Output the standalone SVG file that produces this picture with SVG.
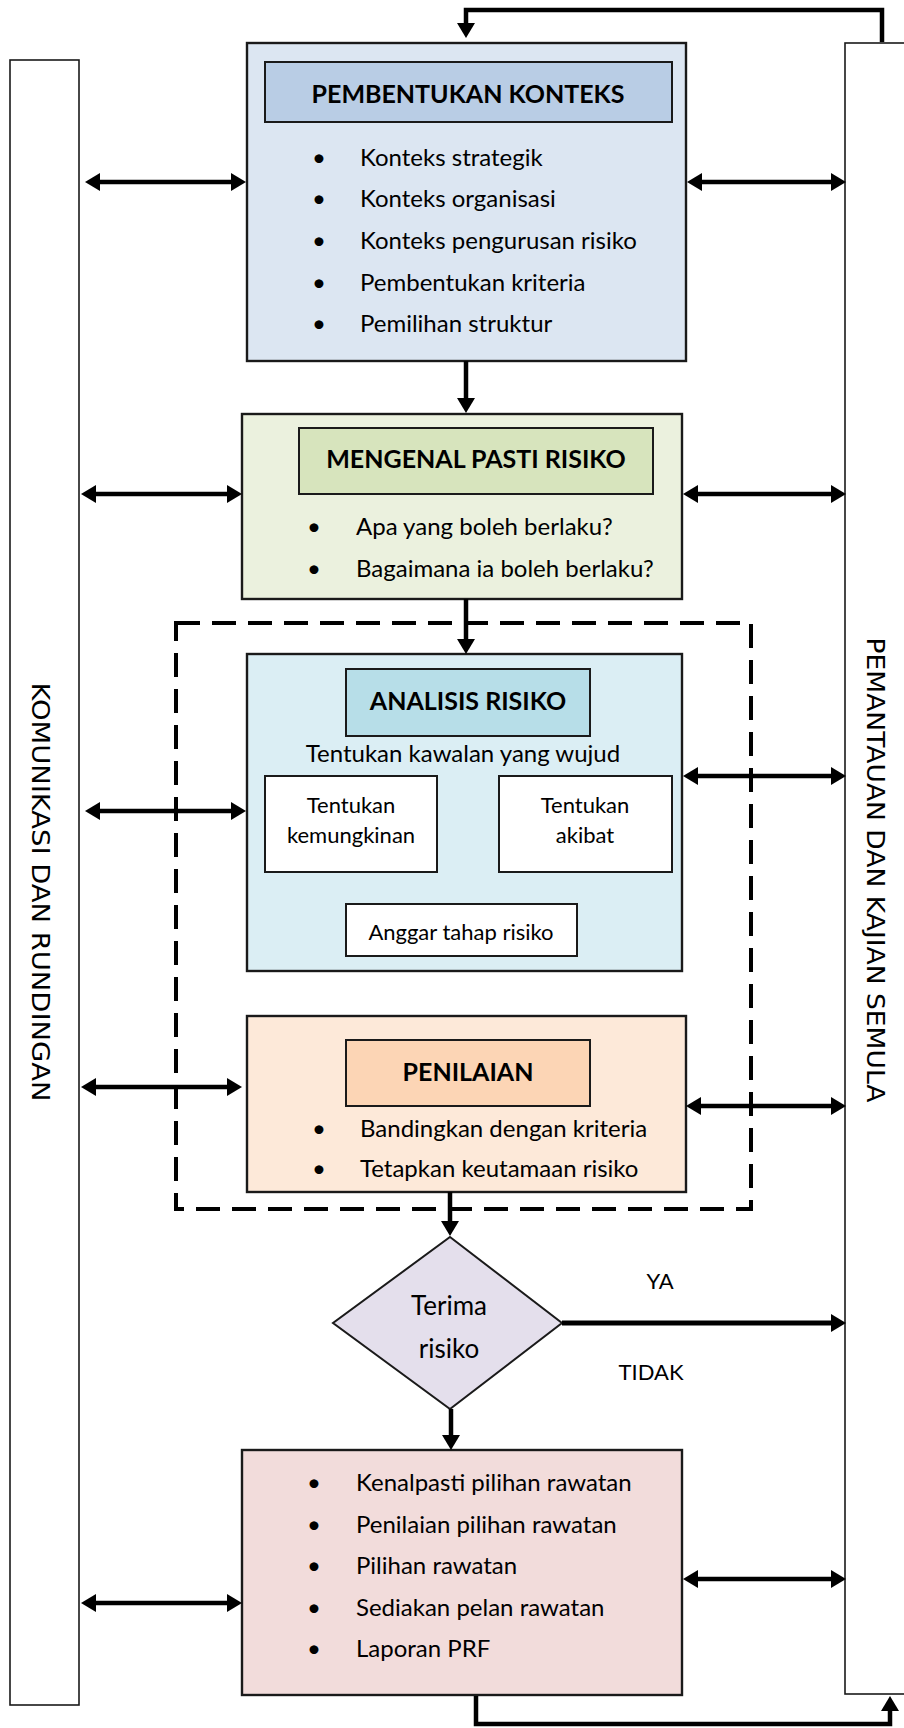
<svg xmlns="http://www.w3.org/2000/svg" width="904" height="1728" viewBox="0 0 904 1728">
<style>
.bg{fill:#ffffff}
.bar{fill:#ffffff;stroke:#1a1a1a;stroke-width:1.6}
.box{stroke:#1a1a1a;stroke-width:2.4}
.hdr{stroke:#1a1a1a;stroke-width:2}
.sub{fill:#ffffff;stroke:#1a1a1a;stroke-width:2}
.dash{fill:none;stroke:#000;stroke-width:4;stroke-dasharray:24 12}
.t{font-family:Lato,"Open Sans",sans-serif;font-size:24px;fill:#000}
.h{font-weight:bold;font-size:25px;text-anchor:middle}
.c{text-anchor:middle}
.s{font-size:22px}
.v{font-family:"DejaVu Sans",sans-serif;font-size:24px;fill:#000;text-anchor:middle}
.conn line,.conn path{stroke:#000;stroke-width:4.5;fill:none}
</style>
<defs>
<marker id="ah" markerUnits="userSpaceOnUse" markerWidth="16" markerHeight="18" refX="1" refY="9" orient="auto-start-reverse" overflow="visible"><path d="M0,0 L15,9 L0,18 z" fill="#000"/></marker>
</defs>
<rect class="bg" x="0" y="0" width="904" height="1728"/>

<g id="bar-left">
<rect class="bar" x="10" y="60" width="69" height="1645"/>
<text class="v" transform="translate(32,892) rotate(90)" textLength="419" lengthAdjust="spacingAndGlyphs">KOMUNIKASI DAN RUNDINGAN</text>
</g>
<g id="bar-right">
<rect class="bar" x="845" y="43" width="75" height="1651"/>
<text class="v" transform="translate(867,870) rotate(90)" textLength="465" lengthAdjust="spacingAndGlyphs">PEMANTAUAN DAN KAJIAN SEMULA</text>
</g>

<g id="pembentukan">
<rect class="box" x="247" y="43" width="439" height="318" fill="#dce6f2"/>
<rect class="hdr" x="265" y="62" width="407" height="60" fill="#b9cde5"/>
<text class="t h" x="468" y="103">PEMBENTUKAN KONTEKS</text>
<text class="t c" x="319" y="166">•</text><text class="t" x="360" y="166">Konteks strategik</text>
<text class="t c" x="319" y="207">•</text><text class="t" x="360" y="207">Konteks organisasi</text>
<text class="t c" x="319" y="249">•</text><text class="t" x="360" y="249">Konteks pengurusan risiko</text>
<text class="t c" x="319" y="291">•</text><text class="t" x="360" y="291">Pembentukan kriteria</text>
<text class="t c" x="319" y="332">•</text><text class="t" x="360" y="332">Pemilihan struktur</text>
</g>

<g id="mengenal">
<rect class="box" x="242" y="414" width="440" height="185" fill="#ebf1de"/>
<rect class="hdr" x="299" y="428" width="354" height="66" fill="#d7e4bd"/>
<text class="t h" x="476" y="468">MENGENAL PASTI RISIKO</text>
<text class="t c" x="314" y="535">•</text><text class="t" x="356" y="535">Apa yang boleh berlaku?</text>
<text class="t c" x="314" y="577">•</text><text class="t" x="356" y="577">Bagaimana ia boleh berlaku?</text>
</g>

<g id="analisis">
<rect class="box" x="247" y="654" width="435" height="317" fill="#dbeef4"/>
<rect class="hdr" x="346" y="669" width="244" height="67" fill="#b7dee8"/>
<text class="t h" x="468" y="710">ANALISIS RISIKO</text>
<text class="t c" x="463" y="762">Tentukan kawalan yang wujud</text>
</g>
<g id="kemungkinan">
<rect class="sub" x="265" y="776" width="172" height="96"/>
<text class="t s c" x="351" y="813">Tentukan</text>
<text class="t s c" x="351" y="843">kemungkinan</text>
</g>
<g id="akibat">
<rect class="sub" x="499" y="776" width="173" height="96"/>
<text class="t s c" x="585" y="813">Tentukan</text>
<text class="t s c" x="585" y="843">akibat</text>
</g>
<g id="anggar">
<rect class="sub" x="346" y="904" width="231" height="52"/>
<text class="t s c" x="461" y="940">Anggar tahap risiko</text>
</g>

<g id="penilaian">
<rect class="box" x="247" y="1016" width="439" height="176" fill="#fde9d9"/>
<rect class="hdr" x="346" y="1040" width="244" height="66" fill="#fcd5b5"/>
<text class="t h" x="468" y="1081">PENILAIAN</text>
<text class="t c" x="319" y="1137">•</text><text class="t" x="360" y="1137">Bandingkan dengan kriteria</text>
<text class="t c" x="319" y="1177">•</text><text class="t" x="360" y="1177">Tetapkan keutamaan risiko</text>
</g>

<g id="analysis-group">
<rect class="dash" x="176" y="623" width="575" height="586"/>
</g>

<g id="terima">
<polygon points="450,1237 562,1323 450,1409 333,1323" fill="#e4dfec" stroke="#1a1a1a" stroke-width="2"/>
<text class="t c" x="449" y="1315" style="font-size:26px">Terima</text>
<text class="t c" x="449" y="1358" style="font-size:26px">risiko</text>
</g>

<g id="rawatan">
<rect class="box" x="242" y="1450" width="440" height="245" fill="#f2dcdb"/>
<text class="t c" x="314" y="1491">•</text><text class="t" x="356" y="1491">Kenalpasti pilihan rawatan</text>
<text class="t c" x="314" y="1533">•</text><text class="t" x="356" y="1533">Penilaian pilihan rawatan</text>
<text class="t c" x="314" y="1574">•</text><text class="t" x="356" y="1574">Pilihan rawatan</text>
<text class="t c" x="314" y="1616">•</text><text class="t" x="356" y="1616">Sediakan pelan rawatan</text>
<text class="t c" x="314" y="1657">•</text><text class="t" x="356" y="1657">Laporan PRF</text>
</g>

<g id="connectors" class="conn">
<line x1="99" y1="182" x2="232" y2="182" marker-start="url(#ah)" marker-end="url(#ah)"/>
<line x1="701" y1="182" x2="832" y2="182" marker-start="url(#ah)" marker-end="url(#ah)"/>
<line x1="95" y1="494" x2="228" y2="494" marker-start="url(#ah)" marker-end="url(#ah)"/>
<line x1="697" y1="494" x2="832" y2="494" marker-start="url(#ah)" marker-end="url(#ah)"/>
<line x1="99" y1="811" x2="232" y2="811" marker-start="url(#ah)" marker-end="url(#ah)"/>
<line x1="697" y1="776" x2="832" y2="776" marker-start="url(#ah)" marker-end="url(#ah)"/>
<line x1="95" y1="1087" x2="228" y2="1087" marker-start="url(#ah)" marker-end="url(#ah)"/>
<line x1="700" y1="1106" x2="832" y2="1106" marker-start="url(#ah)" marker-end="url(#ah)"/>
<line x1="95" y1="1603" x2="228" y2="1603" marker-start="url(#ah)" marker-end="url(#ah)"/>
<line x1="697" y1="1579" x2="832" y2="1579" marker-start="url(#ah)" marker-end="url(#ah)"/>
<line x1="466" y1="361" x2="466" y2="399" marker-end="url(#ah)"/>
<line x1="466" y1="599" x2="466" y2="640" marker-end="url(#ah)"/>
<line x1="450" y1="1192" x2="450" y2="1222" marker-end="url(#ah)"/>
<line x1="451" y1="1409" x2="451" y2="1436" marker-end="url(#ah)"/>
<line x1="562" y1="1323" x2="832" y2="1323" marker-end="url(#ah)" style="stroke-width:5"/>
<path d="M882,42 V10 H466 V24" marker-end="url(#ah)"/>
<path d="M476,1696 V1724 H890 V1710" marker-end="url(#ah)"/>
<text class="t c" x="660" y="1289" style="font-size:22px">YA</text>
<text class="t c" x="651" y="1380" style="font-size:22px">TIDAK</text>
</g>
</svg>
